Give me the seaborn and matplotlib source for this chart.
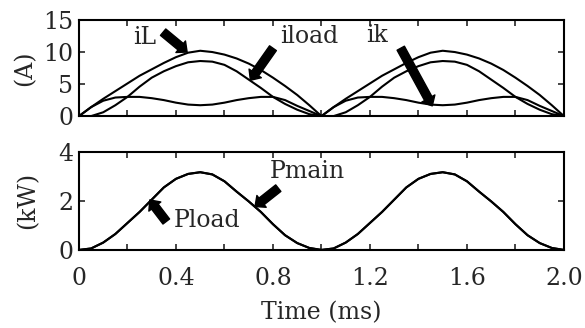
import matplotlib
matplotlib.use("Agg")
import matplotlib.pyplot as plt
import seaborn as sns
import pandas as pd

# ---- data ----
time_ms = [0.00, 0.05, 0.10, 0.15, 0.20, 0.25, 0.30, 0.35, 0.40, 0.45,
           0.50, 0.55, 0.60, 0.65, 0.70, 0.75, 0.80, 0.85, 0.90, 0.95,
           1.00, 1.05, 1.10, 1.15, 1.20, 1.25, 1.30, 1.35, 1.40, 1.45,
           1.50, 1.55, 1.60, 1.65, 1.70, 1.75, 1.80, 1.85, 1.90, 1.95, 2.00]

iL_period = [0, 1.4, 2.7, 3.9, 5.1, 6.3, 7.3, 8.3, 9.2, 9.9, 10.2,
             10.0, 9.6, 9.0, 8.2, 7.2, 6.0, 4.7, 3.3, 1.7, 0]
iload_period = [0, 0.0, 0.6, 1.7, 3.0, 4.6, 6.0, 7.0, 7.8, 8.4, 8.6,
                8.5, 8.0, 7.0, 5.7, 4.4, 3.0, 1.9, 1.0, 0.3, 0]
ik_period = [0, 1.4, 2.4, 2.9, 3.0, 3.0, 2.8, 2.5, 2.1, 1.8, 1.7,
             1.8, 2.1, 2.5, 2.8, 3.0, 3.0, 2.5, 1.6, 0.8, 0]
Pload_period = [0, 0.06, 0.3, 0.65, 1.1, 1.55, 2.05, 2.55, 2.9, 3.1, 3.17,
                3.08, 2.8, 2.38, 1.98, 1.55, 1.05, 0.6, 0.28, 0.08, 0]
Pmain_period = [0, 0.06, 0.3, 0.65, 1.1, 1.55, 2.05, 2.55, 2.9, 3.1, 3.17,
                3.08, 2.8, 2.38, 1.98, 1.55, 1.05, 0.6, 0.28, 0.08, 0]

iL = iL_period + iL_period[1:]
iload = iload_period + iload_period[1:]
ik = ik_period + ik_period[1:]
Pload = Pload_period + Pload_period[1:]
Pmain = Pmain_period + Pmain_period[1:]

x_ticks = [0, 0.4, 0.8, 1.2, 1.6, 2.0]
x_ticklabels = ["0", "0.4", "0.8", "1.2", "1.6", "2.0"]
x_minor = [0.2, 0.6, 1.0, 1.4, 1.8]
top_yticks = [0, 5, 10, 15]
bot_yticks = [0, 2, 4]

cur = pd.DataFrame({"t": time_ms, "iL": iL, "iload": iload, "ik": ik})
pw = pd.DataFrame({"t": time_ms, "Pload": Pload, "Pmain": Pmain})

sns.set_style("ticks")
plt.rcParams["font.family"] = ["DejaVu Serif", "DejaVu Sans"]

fig = plt.figure(figsize=(5.85, 3.28), dpi=100)
ax1 = fig.add_axes([0.135, 0.646, 0.829, 0.293])
ax2 = fig.add_axes([0.135, 0.238, 0.829, 0.299])

lw = 1.5
for col in ["iL", "iload", "ik"]:
    sns.lineplot(data=cur, x="t", y=col, ax=ax1, color="black", lw=lw)
for col in ["Pload", "Pmain"]:
    sns.lineplot(data=pw, x="t", y=col, ax=ax2, color="black", lw=lw)

fs = 17
for ax in (ax1, ax2):
    ax.set_xlim(0, 2.0)
    ax.set_xticks(x_ticks)
    ax.set_xticks(x_minor, minor=True)
    ax.tick_params(axis="both", which="both", direction="in", top=True,
                   right=True, length=4, width=1.2, labelsize=fs, pad=4)
    for s in ax.spines.values():
        s.set_linewidth(1.5)
        s.set_color("black")
    ax.set_xlabel("")

ax1.set_ylim(0, 15)
ax1.set_yticks(top_yticks)
ax1.set_xticklabels([])
ax1.set_ylabel("(A)", fontsize=fs)

ax2.set_ylim(0, 4)
ax2.set_yticks(bot_yticks)
ax2.set_xticklabels(x_ticklabels)
ax2.set_ylabel("(kW)", fontsize=fs)
ax2.set_xlabel("Time (ms)", fontsize=fs, labelpad=8)
ax2.tick_params(axis="x", pad=12)

ax1.yaxis.set_label_coords(-0.088, 0.5)
ax2.yaxis.set_label_coords(-0.082, 0.5)

arrow = dict(arrowstyle="simple,head_length=0.5,head_width=0.9,tail_width=0.5",
             color="black", mutation_scale=12, shrinkA=0, shrinkB=0)

def label(ax, text, xy, xytext, textpos):
    ax.annotate("", xy=xy, xytext=xytext, arrowprops=arrow)
    ax.text(textpos[0], textpos[1], text, fontsize=fs, ha="center",
            va="center")

label(ax1, "iL", (0.446, 10.0), (0.347, 13.1), (0.27, 12.2))
label(ax1, "iload", (0.707, 5.6), (0.80, 10.6), (0.95, 12.4))
label(ax1, "ik", (1.457, 1.6), (1.327, 10.6), (1.23, 12.6))
label(ax2, "Pload", (0.292, 2.04), (0.36, 1.16), (0.53, 1.22))
label(ax2, "Pmain", (0.726, 1.77), (0.822, 2.52), (0.94, 3.18))

fig.savefig("out.png", dpi=100)
